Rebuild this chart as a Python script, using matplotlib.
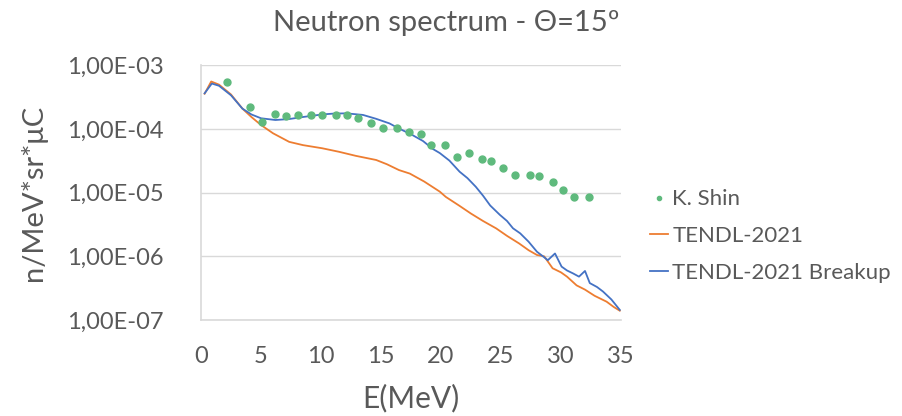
import matplotlib
matplotlib.use('Agg')
import matplotlib.pyplot as plt
from matplotlib.ticker import FixedLocator

GREY = '#595959'; GRID = '#d9d9d9'
GREEN = '#5fba7d'; ORANGE = '#ed7d31'; BLUE = '#4472c4'

# K. Shin measured points
shin_e = [2.2, 4.1, 5.1, 6.2, 7.1, 8.05, 9.2, 10.1, 11.25, 12.2, 13.1, 14.2, 15.2,
          16.3, 17.3, 18.3, 19.2, 20.3, 21.3, 22.3, 23.4, 24.2, 25.2, 26.2, 27.4,
          28.2, 29.3, 30.2, 31.1, 32.3]
shin_y = [5.5e-4, 2.25e-4, 1.31e-4, 1.73e-4, 1.63e-4, 1.69e-4, 1.65e-4, 1.65e-4,
          1.65e-4, 1.67e-4, 1.5e-4, 1.26e-4, 1.04e-4, 1.04e-4, 8.9e-5, 8.3e-5,
          5.7e-5, 5.6e-5, 3.7e-5, 4.26e-5, 3.4e-5, 3.1e-5, 2.45e-5, 1.92e-5,
          1.9e-5, 1.83e-5, 1.48e-5, 1.1e-5, 8.5e-6, 8.5e-6]

# TENDL-2021
tendl_e = [0.3, 0.85, 1.5, 2.5, 3.45, 4.2, 5.0, 6.0, 7.35, 8.5, 10.1, 11.5, 12.9,
           14.6, 15.5, 16.5, 17.4, 18.6, 19.9, 20.4, 21.5, 22.5, 23.5, 24.6, 25.5,
           26.5, 27.3, 28.0, 28.6, 29.3, 30.0, 30.5, 31.3, 32.0, 32.8, 33.8, 34.4, 34.9]
tendl_y = [3.6e-4, 5.6e-4, 5.0e-4, 3.5e-4, 2.1e-4, 1.55e-4, 1.16e-4, 8.6e-5,
           6.3e-5, 5.6e-5, 5.0e-5, 4.4e-5, 3.8e-5, 3.27e-5, 2.8e-5, 2.27e-5,
           2.0e-5, 1.5e-5, 1.04e-5, 8.6e-6, 6.3e-6, 4.7e-6, 3.6e-6, 2.75e-6,
           2.1e-6, 1.6e-6, 1.25e-6, 1.05e-6, 1.0e-6, 6.5e-7, 5.6e-7, 4.8e-7,
           3.5e-7, 3.0e-7, 2.4e-7, 1.94e-7, 1.6e-7, 1.4e-7]

# TENDL-2021 Breakup
brk_e = [0.3, 0.9, 1.5, 2.5, 3.45, 4.2, 5.0, 6.2, 7.35, 8.5, 10.1, 11.0, 12.1,
         13.5, 14.6, 15.7, 16.5, 17.5, 18.5, 19.3, 19.9, 20.7, 21.55, 22.2,
         22.9, 23.5, 24.1, 24.9, 25.5, 26.0, 26.6, 27.3, 28.0, 28.5, 28.9, 29.5,
         30.05, 30.5, 31.0, 31.5, 32.0, 32.4, 33.0, 33.5, 34.2, 34.9]
brk_y = [3.65e-4, 5.2e-4, 4.8e-4, 3.4e-4, 2.1e-4, 1.7e-4, 1.48e-4, 1.39e-4,
         1.44e-4, 1.55e-4, 1.7e-4, 1.75e-4, 1.77e-4, 1.67e-4, 1.45e-4, 1.23e-4,
         1.02e-4, 8.3e-5, 6.5e-5, 4.9e-5, 4.2e-5, 3.2e-5, 2.14e-5, 1.7e-5,
         1.24e-5, 9.0e-6, 6.3e-6, 4.5e-6, 3.6e-6, 2.76e-6, 2.3e-6, 1.7e-6,
         1.18e-6, 1.0e-6, 8.7e-7, 1.11e-6, 6.9e-7, 6.0e-7, 5.4e-7, 4.8e-7,
         5.9e-7, 3.8e-7, 3.3e-7, 2.8e-7, 2.1e-7, 1.44e-7]

x_ticks = [0, 5, 10, 15, 20, 25, 30, 35]
y_ticks = [1e-7, 1e-6, 1e-5, 1e-4, 1e-3]
y_labels = ['1,00E-07', '1,00E-06', '1,00E-05', '1,00E-04', '1,00E-03']

plt.rcParams['font.family'] = ['Lato', 'DejaVu Sans']

fig = plt.figure(figsize=(9.03, 4.16), dpi=100)
ax = fig.add_axes([0.2226, 0.2308, 0.4651, 0.6118])

ax.plot(shin_e, shin_y, 'o', color=GREEN, ms=5, mec=GREEN, label='K. Shin', zorder=4)
ax.plot(tendl_e, tendl_y, '-', color=ORANGE, lw=1.3, label='TENDL-2021', zorder=3)
ax.plot(brk_e, brk_y, '-', color=BLUE, lw=1.3, label='TENDL-2021 Breakup', zorder=3)

ax.set_yscale('log')
ax.set_ylim(1e-7, 1e-3)
ax.set_xlim(0, 35)
ax.xaxis.set_major_locator(FixedLocator(x_ticks))
ax.set_xticklabels([str(t) for t in x_ticks])
ax.yaxis.set_major_locator(FixedLocator(y_ticks))
ax.yaxis.set_minor_locator(FixedLocator([]))
ax.set_yticklabels(y_labels)
ax.tick_params(length=0, labelsize=17, colors=GREY)
ax.tick_params(axis='x', pad=19)
ax.tick_params(axis='y', pad=27)
ax.grid(axis='y', color=GRID, lw=1)
for s in ('top', 'right'):
    ax.spines[s].set_visible(False)
for s in ('left', 'bottom'):
    ax.spines[s].set_color(GRID); ax.spines[s].set_linewidth(1.2)

ax.set_xlabel('E(MeV)', fontsize=21.5, color=GREY, labelpad=12)
ax.set_ylabel('n/MeV*sr*μC', fontsize=21, color=GREY, labelpad=14)
fig.text(0.494, 0.945, 'Neutron spectrum - Θ=15º', fontsize=21, color=GREY,
         ha='center', va='center')

leg = fig.legend(loc='center left', bbox_to_anchor=(0.7198, 0.4327), frameon=False,
                 fontsize=16, labelcolor=GREY, handlelength=0.8, handletextpad=0.2,
                 markerscale=0.6, labelspacing=0.75, borderpad=0, borderaxespad=0)

fig.savefig('out.png', dpi=100, facecolor='white')
